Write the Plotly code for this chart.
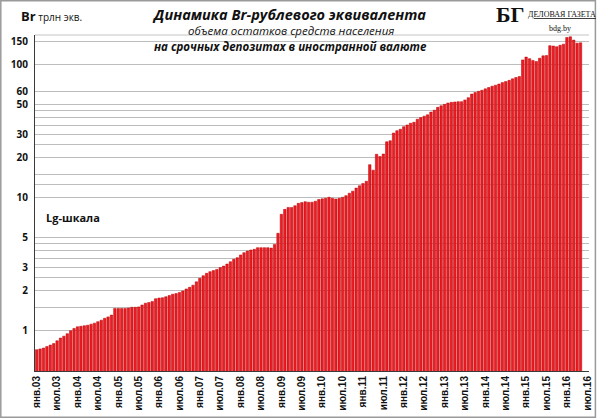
import plotly.graph_objects as go

# end-of-month values, trillion Br equivalent
v2003 = [0.72, 0.73, 0.74, 0.76, 0.78, 0.80, 0.84, 0.88, 0.91, 0.95, 1.00, 1.04]
v2004 = [1.07, 1.08, 1.09, 1.10, 1.12, 1.14, 1.17, 1.20, 1.24, 1.27, 1.31, 1.47]
v2005 = [1.47, 1.47, 1.47, 1.48, 1.50, 1.50, 1.51, 1.56, 1.61, 1.63, 1.66, 1.74]
v2006 = [1.76, 1.77, 1.80, 1.84, 1.88, 1.90, 1.94, 1.99, 2.06, 2.12, 2.20, 2.33]
v2007 = [2.48, 2.59, 2.70, 2.78, 2.83, 2.89, 2.98, 3.06, 3.17, 3.30, 3.44, 3.54]
v2008 = [3.71, 3.86, 3.97, 4.04, 4.09, 4.21, 4.21, 4.21, 4.21, 4.18, 4.45, 5.40]
v2009 = [7.5, 8.17, 8.45, 8.45, 8.7, 9.07, 9.18, 9.33, 9.25, 9.25, 9.4, 9.7]
v2010 = [9.8, 9.9, 10.07, 9.9, 9.78, 9.9, 10.07, 10.36, 10.8, 11.2, 11.8, 12.3]
v2011 = [12.8, 13.3, 17.7, 16.1, 21.2, 20.4, 21.3, 26.3, 26.8, 30.6, 31.9, 32.7]
v2012 = [34.2, 35.2, 36.3, 36.9, 38.9, 40.0, 41.0, 42.0, 44.0, 45.5, 47.8, 49.1]
v2013 = [50.3, 51.5, 52.1, 52.4, 52.7, 52.7, 54.3, 56.5, 60.1, 61.7, 63.0, 64.2]
v2014 = [65.8, 67.3, 68.9, 70.1, 71.5, 73.3, 74.6, 76.2, 78.2, 80.1, 81.5, 108.6]
v2015 = [114, 111, 107.6, 105.7, 111.8, 116.5, 117.1, 139, 138, 136.5, 140, 142.6]
v2016 = [160, 162, 153, 145, 146]

values = (v2003 + v2004 + v2005 + v2006 + v2007 + v2008 + v2009 + v2010
          + v2011 + v2012 + v2013 + v2014 + v2015 + v2016)
months = list(range(len(values)))

x_labels = ["янв.03", "июл.03", "янв.04", "июл.04", "янв.05", "июл.05",
            "янв.06", "июл.06", "янв.07", "июл.07", "янв.08", "июл.08",
            "янв.09", "июл.09", "янв.10", "июл.10", "янв.11", "июл.11",
            "янв.12", "июл.12", "янв.13", "июл.13", "янв.14", "июл.14",
            "янв.15", "июл.15", "янв.16", "июл.16"]
x_ticks = [6 * k for k in range(len(x_labels))]

# gridlines as they sit in the original (its "60" line is drawn a bit high)
y_grid = [1, 1.5, 2, 2.5, 3, 3.5, 4, 4.5, 5, 10, 12.5, 15, 20, 25, 30, 35,
          40, 45, 50, 63, 100, 150]
y_text = ["1", "", "2", "", "3", "", "", "", "5", "10", "", "", "20", "",
          "30", "", "", "", "50", "60", "100", "150"]

W, H = 600, 418
ml, mr, mt, mb = 35, 7, 35, 47
pw, ph = W - ml - mr, H - mt - mb

fig = go.Figure()
fig.add_trace(go.Bar(
    x=months, y=values,
    marker=dict(color="#ec1c24", line=dict(color="#b80000", width=0.5)),
    hoverinfo="x+y",
))

fig.update_layout(
    width=W, height=H,
    margin=dict(l=ml, r=mr, t=mt, b=mb),
    paper_bgcolor="white", plot_bgcolor="white",
    bargap=0.28,
    showlegend=False,
    xaxis=dict(
        range=[-0.5, 162.5],
        tickmode="array", tickvals=x_ticks, ticktext=x_labels,
        tickangle=-90,
        tickfont=dict(family="Liberation Sans", size=10, color="#111", weight="bold"),
        showgrid=False, zeroline=False,
        showline=True, linecolor="#3a3a3a", linewidth=1,
        ticks="",
    ),
    yaxis=dict(
        type="log",
        range=[-0.303, 2.223],
        tickmode="array", tickvals=y_grid, ticktext=y_text,
        tickfont=dict(family="Open Sans", size=10, color="#111", weight="bold"),
        showgrid=True, gridcolor="#bdbdbd", gridwidth=1,
        showline=True, linecolor="#3a3a3a", linewidth=1,
        ticks="", ticklabelstandoff=4,
    ),
)

# outer frame and top border of the plot area
fig.add_shape(type="rect", xref="paper", yref="paper",
              x0=-ml / pw + 0.001, x1=1 + mr / pw - 0.001,
              y0=-mb / ph + 0.002, y1=1 + mt / ph - 0.002,
              line=dict(color="#9a9a9a", width=1.5))
fig.add_shape(type="line", xref="paper", yref="paper", x0=0, x1=1, y0=1, y1=1,
              line=dict(color="#c4c4c4", width=1))


def px(x):
    return (x - ml) / pw


def py(y):
    return 1 - (y - mt) / ph


def label(x, y, text, size, family="Open Sans", xanchor="center"):
    fig.add_annotation(x=px(x), y=py(y), xref="paper", yref="paper",
                       xanchor=xanchor, yanchor="middle", text=text,
                       showarrow=False,
                       font=dict(family=family, size=size, color="#111"))


label(291, 14, "<b><i>Динамика Br-рублевого эквивалента</i></b>", 14.5)
label(293, 30, "<i>объема остатков средств населения</i>", 11.5)
label(292, 47, "<b><i>на срочных депозитах в иностранной валюте</i></b>", 11.5)
label(19, 16, "<b>Br</b><span style='font-size:10px'> трлн экв.</span>", 13,
      xanchor="left")
label(44, 217, "<b>Lg-шкала</b>", 11, xanchor="left")

# logo
label(514, 15, "<b>БГ</b>", 22, family="Liberation Serif")
label(566, 15, "<u>ДЕЛОВАЯ ГАЗЕТА</u>", 8, family="Liberation Serif")
label(564, 28, "bdg.by", 8, family="Liberation Serif")

fig.write_html("out.html", config={"displayModeBar": False},
               post_script="document.body.style.margin='0';")
